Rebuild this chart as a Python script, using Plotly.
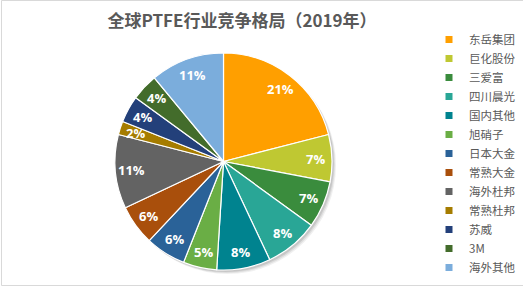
import math
import plotly.graph_objects as go

labels = ["东岳集团", "巨化股份", "三爱富", "四川晨光", "国内其他", "旭硝子", "日本大金",
          "常熟大金", "海外杜邦", "常熟杜邦", "苏威", "3M", "海外其他"]
values = [21, 7, 7, 8, 8, 5, 6, 6, 11, 2, 4, 4, 11]
colors = ["#FF9F00", "#BFC832", "#3A8C3D", "#29A696", "#00838F", "#6AAE45", "#2A6298",
          "#A94F0C", "#636363", "#A57C00", "#23407A", "#436C2B", "#7BADDC"]
title_text = "全球PTFE行业竞争格局（2019年）"

W, H = 523, 295
cx, cy, r = 223.5, 161.5, 108.5
dom = dict(x=[(cx - r) / W, (cx + r) / W], y=[(H - cy - r) / H, (H - cy + r) / H])

fig = go.Figure()
fig.add_trace(go.Pie(
    labels=labels, values=values, sort=False, direction="clockwise", rotation=0,
    marker=dict(colors=colors, line=dict(color="white", width=1.2)),
    textinfo="none", domain=dom, hovertemplate="%{label}: %{percent:.0%}<extra></extra>",
    showlegend=False,
))

# data labels placed at each slice's mid-angle, near the rim (like the original)
total = sum(values)
annotations = []
cum = 0.0
for v in values:
    mid = (cum + v / 2) / total * 2 * math.pi
    cum += v
    rl = 0.85 * r
    x = cx + rl * math.sin(mid)
    y = (H - cy) + rl * math.cos(mid)
    annotations.append(dict(x=x / W, y=y / H, xref="paper", yref="paper",
                            text=f"<b>{round(v / total * 100)}%</b>", showarrow=False,
                            xanchor="center", yanchor="middle", borderpad=0,
                            font=dict(family="Open Sans, Noto Sans CJK SC", size=13,
                                      color="white")))

# legend entries with small square markers
for lab, col in zip(labels, colors):
    fig.add_trace(go.Scatter(x=[None], y=[None], mode="markers", name=lab,
                             marker=dict(symbol="square", size=7, color=col),
                             showlegend=True, hoverinfo="skip"))

shapes = []
for d, op in [(4, 0.06), (3, 0.08), (2, 0.10)]:
    shapes.append(dict(type="circle", xref="paper", yref="paper", layer="below",
                       x0=(cx - r + d) / W, x1=(cx + r + d) / W,
                       y0=(H - cy - r - d) / H, y1=(H - cy + r - d) / H,
                       fillcolor=f"rgba(0,0,0,{op})", line=dict(width=0)))
shapes.append(dict(type="rect", xref="paper", yref="paper", layer="below",
                   x0=1.5 / W, x1=530 / W, y0=(H - 285.5) / H, y1=(H - 0.5) / H,
                   line=dict(color="#D9D9D9", width=1), fillcolor="rgba(0,0,0,0)"))

fig.update_layout(
    width=W, height=H, margin=dict(l=0, r=0, t=0, b=0, autoexpand=False),
    paper_bgcolor="white", plot_bgcolor="rgba(0,0,0,0)",
    xaxis=dict(visible=False), yaxis=dict(visible=False),
    title=dict(text="<b>" + title_text + "</b>", x=242 / W, xanchor="center",
               y=1 - 21 / H, yanchor="middle",
               font=dict(family="Noto Sans CJK SC", size=17, color="#595959")),
    legend=dict(x=429 / W, xanchor="left", y=1 - 25 / H, yanchor="top",
                font=dict(family="Noto Sans CJK SC", size=11.5, color="#595959"),
                itemwidth=30, tracegroupgap=0, bgcolor="rgba(0,0,0,0)"),
    annotations=annotations,
    shapes=shapes,
    showlegend=True,
)

fig.write_html("out.html")
